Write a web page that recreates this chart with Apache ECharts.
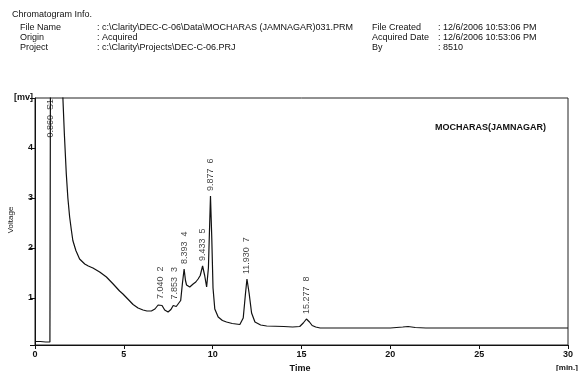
<!DOCTYPE html>
<html>
<head>
<meta charset="utf-8">
<script src="https://cdn.jsdelivr.net/npm/echarts@6/dist/echarts.min.js"></script>
<style>html,body{margin:0;padding:0;background:#fff}#c{width:578px;height:371px}</style>
</head>
<body>
<div id="c"></div>
<script>
// Time (min) and detector signal (mV)
var times = [0, 0.3, 0.6, 0.84, 0.87, 1.5, 1.57, 1.65, 1.76, 1.85, 1.95, 2.05, 2.13, 2.3, 2.51, 2.8, 3.0, 3.26, 3.64, 4.02, 4.4, 4.76, 4.95, 5.25, 5.52, 5.8, 6.08, 6.3, 6.55, 6.75, 6.93, 7.04, 7.15, 7.3, 7.49, 7.65, 7.78, 7.853, 7.95, 8.06, 8.2, 8.3, 8.393, 8.47, 8.53, 8.62, 8.71, 8.8, 8.9, 9.05, 9.18, 9.3, 9.433, 9.55, 9.66, 9.76, 9.877, 9.95, 10.02, 10.12, 10.31, 10.55, 10.78, 11.1, 11.53, 11.72, 11.85, 11.93, 12.05, 12.19, 12.38, 12.7, 13.04, 14.0, 14.5, 14.9, 15.1, 15.277, 15.45, 15.6, 15.8, 16.05, 17, 18, 19, 20, 20.7, 21.0, 21.4, 22, 23, 24, 25, 26, 27, 28, 29, 30];
var voltage = [0.13, 0.13, 0.12, 0.12, 5.6, 5.6, 5.0, 4.3, 3.49, 3.0, 2.62, 2.35, 2.15, 1.95, 1.78, 1.68, 1.64, 1.60, 1.52, 1.42, 1.28, 1.14, 1.08, 0.97, 0.87, 0.80, 0.76, 0.74, 0.74, 0.78, 0.86, 0.88, 0.85, 0.76, 0.72, 0.77, 0.85, 0.87, 0.83, 0.80, 0.95, 1.3, 1.58, 1.35, 1.26, 1.30, 1.22, 1.24, 1.28, 1.32, 1.38, 1.45, 1.64, 1.45, 1.22, 1.6, 3.04, 2.2, 1.2, 0.78, 0.62, 0.55, 0.52, 0.49, 0.47, 0.6, 1.1, 1.38, 1.1, 0.70, 0.52, 0.46, 0.44, 0.43, 0.42, 0.43, 0.50, 0.58, 0.52, 0.45, 0.42, 0.40, 0.40, 0.40, 0.40, 0.40, 0.42, 0.43, 0.41, 0.40, 0.40, 0.40, 0.40, 0.40, 0.40, 0.40, 0.40, 0.40];

// Peak annotations
var peakTimes = [7.040, 7.853, 8.393, 9.433, 9.877, 11.930, 15.277];
var peakHeights = [0.88, 0.87, 1.58, 1.64, 3.04, 1.38, 0.58];
var peakNumbers = ['2', '3', '4', '5', '6', '7', '8'];
var solventTime = 0.860;
var solventLabel = 'S1';

var xTicks = [0, 5, 10, 15, 20, 25, 30];
var yTickLabels = {1: '1', 2: '2', 3: '3', 4: '4', 5: '[mv]'};

var title = 'MOCHARAS(JAMNAGAR)';
var headerLeftKeys = ['File Name', 'Origin', 'Project'];
var headerLeftVals = [': c:\\Clarity\\DEC-C-06\\Data\\MOCHARAS (JAMNAGAR)031.PRM', ': Acquired', ': c:\\Clarity\\Projects\\DEC-C-06.PRJ'];
var headerRightKeys = ['File Created', 'Acquired Date', 'By'];
var headerRightVals = [': 12/6/2006 10:53:06 PM', ': 12/6/2006 10:53:06 PM', ': 8510'];

var FONT = "'Liberation Sans', Arial, sans-serif";
var lineData = times.map(function (t, i) { return [t, voltage[i]]; });
var peakData = peakTimes.map(function (t, i) { return {value: [t, peakHeights[i]], name: t.toFixed(3) + '  ' + peakNumbers[i]}; });

var graphics = [];
graphics.push({type: 'text', left: 12, top: 10, style: {text: 'Chromatogram Info.', font: '9px ' + FONT, fill: '#111'}});
var rowsY = [23, 33, 43];
for (var i = 0; i < 3; i++) {
  graphics.push({type: 'text', left: 20, top: rowsY[i], style: {text: headerLeftKeys[i], font: '9px ' + FONT, fill: '#111'}});
  graphics.push({type: 'text', left: 97, top: rowsY[i], style: {text: headerLeftVals[i], font: '9px ' + FONT, fill: '#111'}});
  graphics.push({type: 'text', left: 372, top: rowsY[i], style: {text: headerRightKeys[i], font: '9px ' + FONT, fill: '#111'}});
  graphics.push({type: 'text', left: 438, top: rowsY[i], style: {text: headerRightVals[i], font: '9px ' + FONT, fill: '#111'}});
}
graphics.push({type: 'text', x: 11, y: 220, rotation: Math.PI / 2, style: {text: 'Voltage', font: '8px ' + FONT, fill: '#111', align: 'center', verticalAlign: 'middle'}});
graphics.push({type: 'text', x: 300, y: 364, style: {text: 'Time', font: 'bold 9px ' + FONT, fill: '#111', align: 'center', verticalAlign: 'top'}});
graphics.push({type: 'text', x: 567, y: 368, style: {text: '[min.]', font: 'bold 8px ' + FONT, fill: '#111', align: 'center', verticalAlign: 'middle'}});

var chart = echarts.init(document.getElementById('c'), null, {renderer: 'canvas'});
chart.setOption({
  animation: false,
  backgroundColor: '#fff',
  title: {text: title, left: 430, top: 118, textStyle: {fontFamily: FONT, fontSize: 9, fontWeight: 'bold', color: '#111'}},
  grid: {left: 35, right: 10, top: 98, bottom: 26, show: true, borderColor: '#222', borderWidth: 1},
  graphic: graphics,
  xAxis: {
    type: 'value', min: xTicks[0], max: xTicks[xTicks.length - 1], interval: 5,
    axisLine: {lineStyle: {color: '#111', width: 1}},
    axisTick: {show: true, length: 4, lineStyle: {color: '#111'}},
    axisLabel: {color: '#111', fontFamily: FONT, fontSize: 9, fontWeight: 'bold', margin: 5},
    splitLine: {show: false}
  },
  yAxis: {
    type: 'value', min: 0.06, max: 5,
    axisLine: {show: true, lineStyle: {color: '#111', width: 1}},
    axisTick: {show: true, length: 5, lineStyle: {color: '#111'}},
    axisLabel: {color: '#111', fontFamily: FONT, fontSize: 9, fontWeight: 'bold', margin: 2,
      formatter: function (v) { return yTickLabels[Math.round(v * 100) / 100] || ''; }},
    splitLine: {show: false}
  },
  series: [
    {type: 'line', data: lineData, showSymbol: false, symbol: 'none', clip: true,
      lineStyle: {color: '#111', width: 1.2}, z: 3},
    {type: 'scatter', data: peakData, symbolSize: 0, z: 4,
      label: {show: true, position: 'top', distance: 5, rotate: 90, align: 'left', verticalAlign: 'middle',
        formatter: '{b}', fontFamily: FONT, fontSize: 9, color: '#111'}},
    {type: 'scatter', data: [{value: [solventTime, 5], name: solventTime.toFixed(3) + '  ' + solventLabel}], symbolSize: 0, z: 4,
      label: {show: true, position: 'bottom', distance: 2, rotate: 90, align: 'right', verticalAlign: 'middle', offset: [1, 0],
        formatter: '{b}', fontFamily: FONT, fontSize: 9, color: '#111'}}
  ]
});
</script>
</body>
</html>
